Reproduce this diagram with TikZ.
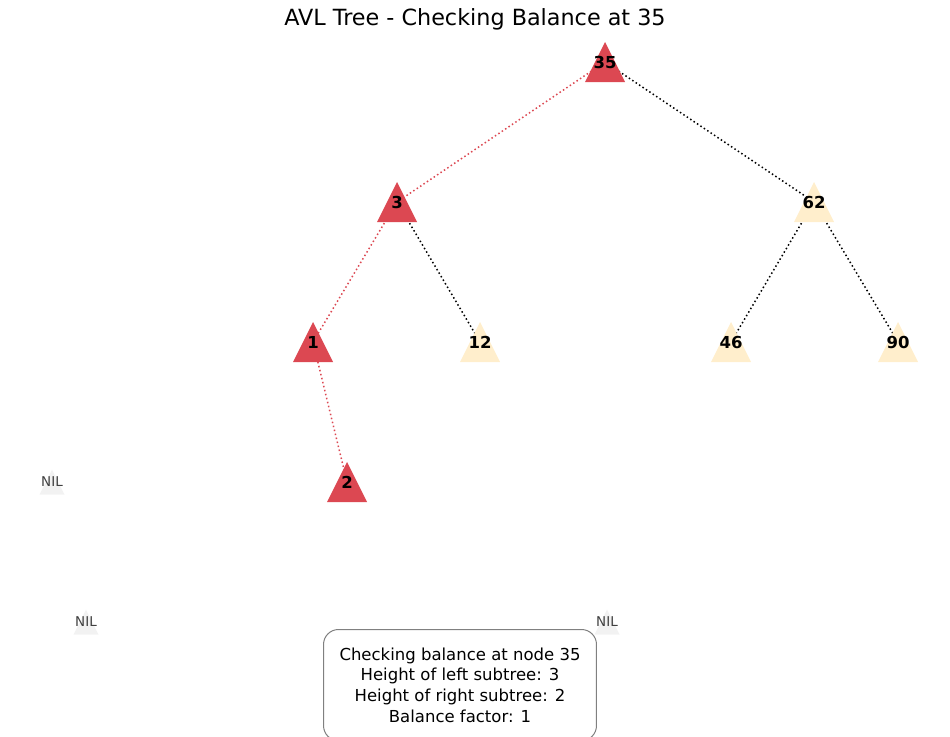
\documentclass[tikz,border=0pt]{standalone}
\usepackage{fontspec}
\setmainfont{DejaVu Sans}
\usetikzlibrary{backgrounds}

\definecolor{visit}{HTML}{DC4852}
\definecolor{idle}{HTML}{FFEECC}
\definecolor{nilgray}{HTML}{F2F2F2}

\tikzset{
	tri/.style={minimum width=40pt, minimum height=40pt, inner sep=0pt,
		font=\fontsize{16.5}{18}\selectfont\bfseries,
		path picture={\fill[#1] (path picture bounding box.south west) -- (path picture bounding box.south east) -- (path picture bounding box.north) -- cycle;}},
	nil/.style={minimum width=25pt, minimum height=25pt, inner sep=0pt,
		text=black!75, font=\fontsize{13.5}{15}\selectfont,
		path picture={\fill[nilgray] (path picture bounding box.south west) -- (path picture bounding box.south east) -- (path picture bounding box.north) -- cycle;}},
	link/.style={line width=1.5pt, dash pattern=on 1.5pt off 2.6pt}
}

\begin{document}
\begin{tikzpicture}[x=1pt, y=-1pt]
			\clip (0,0) rectangle (950,736);

			\node[font=\fontsize{22.3}{25}\selectfont] (title) at (475,19) {AVL Tree - Checking Balance at 35};

			\node[tri=visit] (n35) at (605,62) {35};
			\node[tri=visit] (n3) at (397,202) {3};
			\node[tri=idle] (n62) at (814,202) {62};
			\node[tri=visit] (n1) at (313,342) {1};
			\node[tri=idle] (n12) at (480,342) {12};
			\node[tri=idle] (n46) at (731,342) {46};
			\node[tri=idle] (n90) at (898,342) {90};
			\node[tri=visit] (n2) at (347,482) {2};
			\node[nil] (nilA) at (52,482) {NIL};
			\node[nil] (nilB) at (86,622) {NIL};
			\node[nil] (nilC) at (607,622) {NIL};

			\begin{pgfonlayer}{background}
				\draw[link, visit] (n35.center) -- (n3.center);
				\draw[link, visit] (n3.center) -- (n1.center);
				\draw[link, visit] (n1.center) -- (n2.center);
				\draw[link] (n35.center) -- (n62.center);
				\draw[link] (n3.center) -- (n12.center);
				\draw[link] (n62.center) -- (n46.center);
				\draw[link] (n62.center) -- (n90.center);
			\end{pgfonlayer}

			\node[draw=black!50, line width=1pt, rounded corners=15pt, fill=white, anchor=north,
				align=center, inner xsep=16pt, inner ysep=18pt,
				font=\fontsize{16.5}{20.8}\selectfont] (info) at (460,629)
				{Checking balance at node 35\\Height of left subtree: 3\\Height of right subtree: 2\\Balance factor: 1};
		\end{tikzpicture}
\end{document}
